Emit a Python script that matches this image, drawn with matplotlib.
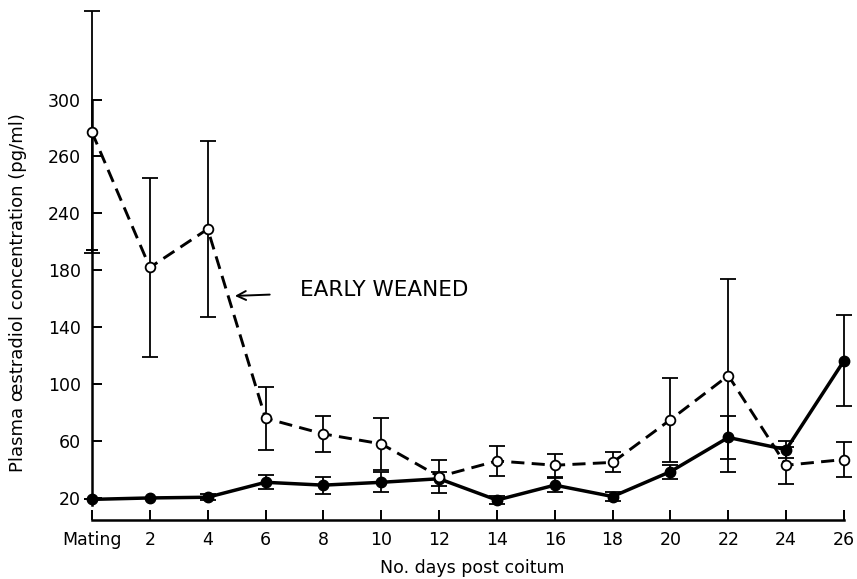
import matplotlib
matplotlib.use("Agg")
import matplotlib.pyplot as plt

plt.rcParams['font.family'] = ['DejaVu Sans']

# days post coitum (0 = mating)
days = [0, 2, 4, 6, 8, 10, 12, 14, 16, 18, 20, 22, 24, 26]
day_labels = ['Mating', '2', '4', '6', '8', '10', '12', '14', '16', '18', '20', '22', '24', '26']

# early weaned group (open circles, dashed)
weaned = [277, 182, 209, 76, 65, 58, 35, 46, 43, 45, 75, 106, 43, 47]
weaned_err = [85, 63, 62, 22, 12.5, 18.5, 11.5, 10.5, 8, 7, 29.5, 68, 13, 12]

# control group (filled circles, solid)
control = [19, 20, 20.5, 31, 29, 31, 33.5, 18.5, 29, 21, 38.5, 62.5, 54, 116.5]
control_err = [0, 0, 2, 5, 6, 7, 5, 3, 5, 3, 5, 15, 6, 32]

# y tick labels exactly as printed on the original axis
ytick_vals = [20, 60, 100, 140, 180, 220, 260, 300]
ytick_labels = ['20', '60', '100', '140', '180', '240', '260', '300']

fig = plt.figure(figsize=(8.57, 5.79), dpi=100)
ax = fig.add_axes([92 / 857, 59 / 579, (844 - 92) / 857, 520 / 579])
ax.set_xlim(0, 26)
ax.set_ylim(4.5, 370)

# early weaned
ax.errorbar(days, weaned, yerr=weaned_err, fmt='none', ecolor='black',
            elinewidth=1.3, capsize=5.5, capthick=1.3, clip_on=False, zorder=2)
ax.plot(days, weaned, color='black', lw=2.1, dashes=(4.5, 2.5),
        clip_on=False, zorder=3)
ax.plot(days, weaned, 'o', ms=7, mfc='white', mec='black', mew=1.3,
        clip_on=False, zorder=5)

# controls
ax.errorbar(days, control, yerr=control_err, fmt='none', ecolor='black',
            elinewidth=1.3, capsize=5.5, capthick=1.3, clip_on=False, zorder=2)
ax.plot(days, control, '-o', color='black', lw=2.5, ms=7.5,
        clip_on=False, zorder=4)

ax.annotate('EARLY WEANED', xy=(4.94, 162), xytext=(7.2, 166),
            fontsize=15.5, va='center', ha='left',
            arrowprops=dict(arrowstyle='->', lw=1.4, color='black',
                            shrinkA=20, shrinkB=0, mutation_scale=16))

for s in ['top', 'right']:
    ax.spines[s].set_visible(False)
ax.spines['left'].set_bounds(15, 300)
ax.spines['bottom'].set_bounds(0, 26)
ax.spines['left'].set_linewidth(1.8)
ax.spines['bottom'].set_linewidth(1.8)

ax.set_xticks(days)
ax.set_xticklabels(day_labels, fontsize=12.5)
ax.set_yticks(ytick_vals)
ax.set_yticklabels(ytick_labels, fontsize=12.5)
ax.set_yticks([194.5], minor=True)
ax.tick_params(axis='x', direction='in', length=7, width=1.4, pad=8)
ax.tick_params(axis='y', which='major', direction='in', length=7, width=1.4, pad=8)
ax.tick_params(axis='y', which='minor', direction='inout', length=9, width=1.4)

fig.text(472 / 857, (579 - 559) / 579, 'No. days post coitum', fontsize=12.5,
         ha='center', va='top')
fig.text(0.021, 0.494, 'Plasma œstradiol concentration (pg/ml)', rotation=90,
         fontsize=13, ha='center', va='center')

fig.savefig('out.png', dpi=100)
